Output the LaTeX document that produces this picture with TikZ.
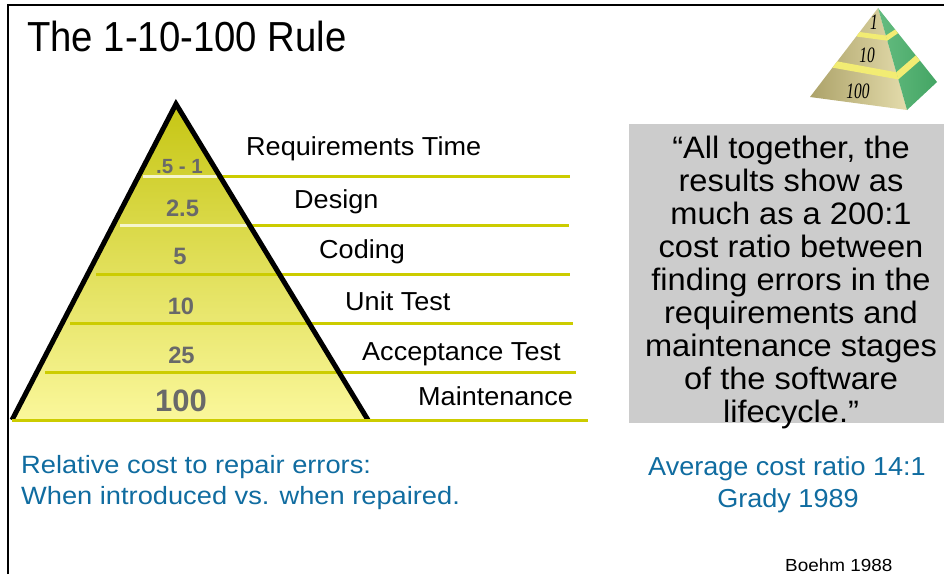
\documentclass[tikz,border=0pt]{standalone}
\usepackage{fontspec}
\setmainfont{Liberation Sans}
\newfontfamily\iconfont{Liberation Serif}
\usetikzlibrary{calc}
\definecolor{lineol}{RGB}{204,204,0}
\definecolor{linepale}{RGB}{245,245,205}
\definecolor{pyrtop}{RGB}{198,198,20}
\definecolor{pyrmid}{RGB}{232,230,95}
\definecolor{pyrbot}{RGB}{250,247,155}
\definecolor{numgray}{RGB}{105,105,105}
\definecolor{bluetxt}{RGB}{16,108,160}
\definecolor{quotebg}{RGB}{204,204,204}
\definecolor{khakiL}{RGB}{172,162,105}
\definecolor{khakiR}{RGB}{228,220,172}
\definecolor{greenL}{RGB}{100,188,128}
\definecolor{greenR}{RGB}{68,165,100}
\definecolor{bandy}{RGB}{242,236,115}
\newcommand\hsc[2]{\scalebox{#1}[1]{#2}}
\begin{document}
\begin{tikzpicture}[x=1pt,y=-1pt,
  lbl/.style={anchor=base west, inner sep=0pt, font=\fontsize{26}{30}\selectfont},
  numtxt/.style={anchor=base, inner sep=0pt, text=numgray, font=\bfseries\fontsize{23.7}{28}\selectfont},
  quotetxt/.style={anchor=base, inner sep=0pt, font=\fontsize{31}{34}\selectfont},
  bluel/.style={anchor=base west, inner sep=0pt, text=bluetxt, font=\fontsize{25}{29}\selectfont},
  bluer/.style={anchor=base, inner sep=0pt, text=bluetxt, font=\fontsize{26}{30}\selectfont},
  levline/.style={lineol, line width=3pt},
  icontxt/.style={anchor=base, inner sep=0pt, font=\iconfont\itshape\fontsize{22}{24}\selectfont}
]
\useasboundingbox (0,0) rectangle (944,574);
% frame
\draw[line width=2pt] (8,574) -- (8,5) -- (944,5);
% title
\node[anchor=base west, inner sep=0pt, font=\fontsize{42}{48}\selectfont] (title) at (27,51.7) {\hsc{0.912}{The 1-10-100 Rule}};
% grey quote box
\fill[quotebg] (629,124) rectangle (944,423);
% pyramid
\coordinate (apex) at (176,104);
\coordinate (bl) at (12,420);
\coordinate (br) at (368,420);
\shade[top color=pyrtop, middle color=pyrmid, bottom color=pyrbot] (apex) -- (bl) -- (br) -- cycle;
% level lines
\foreach \yy/\xa/\xb in {176/143/570, 225/120/569, 274/96/570, 323/70/573, 372/45/576}
  \draw[levline] (\xa,\yy) -- (\xb,\yy);
\draw[linepale, line width=3pt] (143,176) -- (217,176);
\draw[linepale, line width=3pt] (120,225) -- (247,225);
\draw[line width=5pt, line join=miter] (bl) -- (apex) -- (br);
\draw[levline] (12,420) -- (588,420);
% numbers
\node[numtxt, font=\bfseries\fontsize{20.5}{24}\selectfont] (n1) at (179.5,173) {.5 - 1};
\node[numtxt] (n2) at (182.5,216) {2.5};
\node[numtxt] (n3) at (180,264) {5};
\node[numtxt] (n4) at (181,314) {10};
\node[numtxt] (n5) at (181.5,363) {25};
\node[numtxt, font=\bfseries\fontsize{31}{36}\selectfont] (n6) at (181,411.7) {100};
% labels
\node[lbl] (l1) at (246,155) {\hsc{1.04}{Requirements Time}};
\node[lbl] (l2) at (294,208.5) {\hsc{1.04}{Design}};
\node[lbl] (l3) at (319,258) {\hsc{1.04}{Coding}};
\node[lbl] (l4) at (345,310) {\hsc{1.04}{Unit Test}};
\node[lbl] (l5) at (362,360) {\hsc{1.04}{Acceptance Test}};
\node[lbl] (l6) at (418,405) {\hsc{1.04}{Maintenance}};
% quote
\foreach \txt [count=\k from 0] in {“All together\char44{} the, results show as, much as a 200:1, cost ratio between, finding errors in the, requirements and, maintenance stages, of the software, lifecycle.”}
  \node[quotetxt] (q\k) at (791,158+33.1*\k) {\hsc{1.052}{\txt}};
% blue texts
\node[bluel] (b1) at (21,473) {\hsc{1.09}{Relative cost to repair errors:}};
\node[bluel] (b2) at (21,504) {\hsc{1.09}{When introduced vs. when repaired.}};
\node[bluer] (c1) at (787,475.5) {\hsc{1.04}{Average cost ratio 14:1}};
\node[bluer] (c2) at (788,507.5) {\hsc{1.04}{Grady 1989}};
\node[anchor=base west, inner sep=0pt, font=\fontsize{17.5}{20}\selectfont] (boehm) at (785,571.5) {\hsc{1.08}{Boehm 1988}};
% icon pyramid
\coordinate (iA) at (878,8);
\coordinate (iL) at (810,97);
\coordinate (iF) at (907,110);
\coordinate (iR) at (937,82);
\shade[left color=khakiL, right color=khakiR] (iA) -- (iL) -- (iF) -- cycle;
\shade[left color=greenL, right color=greenR] (iA) -- (iF) -- (iR) -- cycle;
\fill[bandy] ($(iA)!0.27!(iL)$) -- ($(iA)!0.27!(iF)$) -- ($(iA)!0.32!(iF)$) -- ($(iA)!0.32!(iL)$) -- cycle;
\fill[bandy] ($(iA)!0.27!(iF)$) -- ($(iA)!0.29!(iR)$) -- ($(iA)!0.34!(iR)$) -- ($(iA)!0.32!(iF)$) -- cycle;
\fill[bandy] ($(iA)!0.60!(iL)$) -- ($(iA)!0.63!(iF)$) -- ($(iA)!0.70!(iF)$) -- ($(iA)!0.67!(iL)$) -- cycle;
\fill[bandy] ($(iA)!0.63!(iF)$) -- ($(iA)!0.64!(iR)$) -- ($(iA)!0.71!(iR)$) -- ($(iA)!0.70!(iF)$) -- cycle;
\node[icontxt] (i1) at (874,29) {\hsc{0.7}{1}};
\node[icontxt] (i2) at (867,62) {\hsc{0.7}{10}};
\node[icontxt] (i3) at (858,98) {\hsc{0.7}{100}};
\end{tikzpicture}
\end{document}
